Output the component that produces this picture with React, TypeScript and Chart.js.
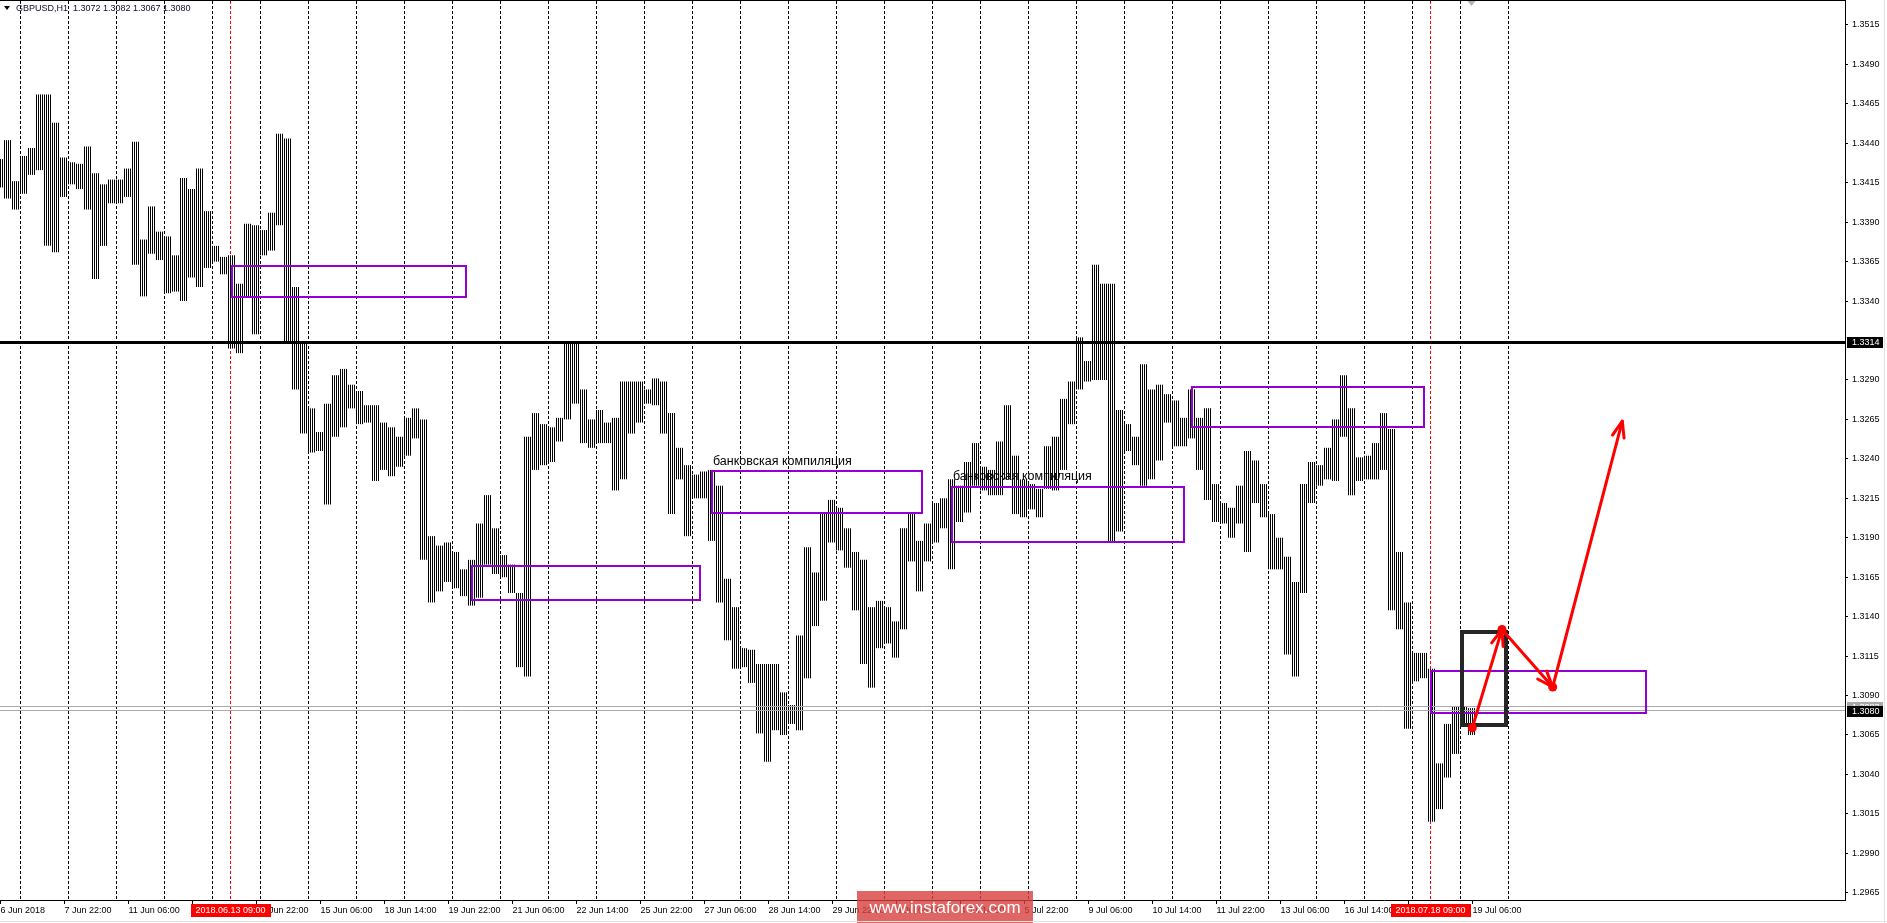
import React, { useEffect, useRef } from 'react';
import { Chart, registerables } from 'chart.js';

Chart.register(...registerables);

// ---------- data ----------
const symbolTitle = 'GBPUSD,H1';
const lastBarOHLC = [1.3072, 1.3082, 1.3067, 1.3080];

// x value = hourly bar index (0 = 6 Jun 2018 14:00). Each entry below is a group of 4 hourly bars,
// group k covers bars 4k-2 .. 4k+1 (first group starts 6 Jun 12:00).
const groupHigh = [
  1.3430, 1.3442, 1.3416, 1.3432, 1.3437, 1.3471, 1.3471, 1.3453, 1.3431, 1.3428,
  1.3427, 1.3438, 1.3421, 1.3414, 1.3417, 1.3417, 1.3424, 1.3441, 1.3379, 1.3400,
  1.3384, 1.3381, 1.3369, 1.3418, 1.3411, 1.3424, 1.3397, 1.3375, 1.3368, 1.3369,
  1.3351, 1.3389, 1.3388, 1.3385, 1.3396, 1.3446, 1.3443, 1.3349, 1.3314, 1.3272,
  1.3257, 1.3275, 1.3293, 1.3297, 1.3287, 1.3283, 1.3274, 1.3274, 1.3263, 1.3260,
  1.3254, 1.3266, 1.3272, 1.3265, 1.3191, 1.3185, 1.3187, 1.3181, 1.3170, 1.3176,
  1.3199, 1.3217, 1.3196, 1.3179, 1.3173, 1.3155, 1.3254, 1.3269, 1.3262, 1.3260,
  1.3266, 1.3313, 1.3313, 1.3284, 1.3265, 1.3271, 1.3263, 1.3266, 1.3289, 1.3289,
  1.3289, 1.3284, 1.3291, 1.3289, 1.3269, 1.3247, 1.3236, 1.3230, 1.3232, 1.3233,
  1.3223, 1.3164, 1.3146, 1.3120, 1.3119, 1.3110, 1.3110, 1.3110, 1.3092, 1.3084,
  1.3128, 1.3184, 1.3168, 1.3206, 1.3214, 1.3209, 1.3196, 1.3181, 1.3176, 1.3146,
  1.3150, 1.3146, 1.3137, 1.3196, 1.3205, 1.3188, 1.3199, 1.3212, 1.3215, 1.3227,
  1.3223, 1.3238, 1.3250, 1.3235, 1.3233, 1.3251, 1.3274, 1.3242, 1.3227, 1.3224,
  1.3221, 1.3248, 1.3254, 1.3278, 1.3289, 1.3317, 1.3302, 1.3363, 1.3351, 1.3351,
  1.3271, 1.3262, 1.3254, 1.3300, 1.3284, 1.3287, 1.3281, 1.3277, 1.3266, 1.3284,
  1.3266, 1.3272, 1.3224, 1.3212, 1.3209, 1.3223, 1.3245, 1.3239, 1.3224, 1.3205,
  1.3190, 1.3178, 1.3162, 1.3224, 1.3238, 1.3236, 1.3247, 1.3265, 1.3293, 1.3272,
  1.3241, 1.3242, 1.3250, 1.3269, 1.3259, 1.3181, 1.3149, 1.3117, 1.3117, 1.3107,
  1.3047, 1.3072, 1.3083, 1.3083, 1.3082,
];
const groupLow = [
  1.3412, 1.3405, 1.3398, 1.3408, 1.3420, 1.3423, 1.3375, 1.3371, 1.3406, 1.3414,
  1.3411, 1.3398, 1.3354, 1.3375, 1.3402, 1.3402, 1.3406, 1.3363, 1.3343, 1.3370,
  1.3366, 1.3345, 1.3346, 1.3340, 1.3355, 1.3349, 1.3361, 1.3365, 1.3357, 1.3310,
  1.3307, 1.3342, 1.3319, 1.3369, 1.3372, 1.3388, 1.3313, 1.3284, 1.3256, 1.3244,
  1.3245, 1.3211, 1.3254, 1.3260, 1.3272, 1.3262, 1.3263, 1.3226, 1.3233, 1.3229,
  1.3235, 1.3242, 1.3253, 1.3176, 1.3149, 1.3156, 1.3162, 1.3158, 1.3153, 1.3147,
  1.3152, 1.3173, 1.3167, 1.3165, 1.3155, 1.3108, 1.3102, 1.3233, 1.3236, 1.3238,
  1.3251, 1.3265, 1.3275, 1.3250, 1.3247, 1.3250, 1.3250, 1.3220, 1.3227, 1.3256,
  1.3263, 1.3275, 1.3274, 1.3256, 1.3205, 1.3227, 1.3191, 1.3215, 1.3215, 1.3188,
  1.3149, 1.3125, 1.3107, 1.3108, 1.3098, 1.3066, 1.3048, 1.3068, 1.3065, 1.3072,
  1.3068, 1.3101, 1.3134, 1.3150, 1.3187, 1.3182, 1.3171, 1.3144, 1.3110, 1.3095,
  1.3120, 1.3123, 1.3114, 1.3132, 1.3175, 1.3156, 1.3175, 1.3187, 1.3196, 1.3170,
  1.3200, 1.3206, 1.3223, 1.3220, 1.3217, 1.3217, 1.3227, 1.3205, 1.3203, 1.3208,
  1.3203, 1.3221, 1.3220, 1.3233, 1.3262, 1.3284, 1.3289, 1.3290, 1.3290, 1.3188,
  1.3194, 1.3245, 1.3236, 1.3223, 1.3227, 1.3239, 1.3263, 1.3248, 1.3248, 1.3253,
  1.3233, 1.3214, 1.3200, 1.3199, 1.3190, 1.3199, 1.3181, 1.3212, 1.3203, 1.3170,
  1.3170, 1.3116, 1.3102, 1.3155, 1.3212, 1.3223, 1.3227, 1.3226, 1.3254, 1.3217,
  1.3226, 1.3227, 1.3227, 1.3233, 1.3144, 1.3132, 1.3069, 1.3099, 1.3101, 1.3010,
  1.3018, 1.3038, 1.3053, 1.3071, 1.3065,
];

const priceTicks = [
  1.2965, 1.2990, 1.3015, 1.3040, 1.3065, 1.3090, 1.3115, 1.3140, 1.3165, 1.3190, 1.3215,
  1.3240, 1.3265, 1.3290, 1.3340, 1.3365, 1.3390, 1.3415, 1.3440, 1.3465, 1.3490, 1.3515,
];
const xTickBars = [0, 32, 64, 96, 128, 160, 192, 224, 256, 288, 320, 352, 384, 416, 448, 480, 512, 544, 576, 608, 640, 672, 704, 736];
const xTickLabels = [
  '6 Jun 2018', '7 Jun 22:00', '11 Jun 06:00', '12 Jun 14:00', '13 Jun 22:00', '15 Jun 06:00',
  '18 Jun 14:00', '19 Jun 22:00', '21 Jun 06:00', '22 Jun 14:00', '25 Jun 22:00', '27 Jun 06:00',
  '28 Jun 14:00', '29 Jun 22:00', '3 Jul 06:00', '4 Jul 14:00', '5 Jul 22:00', '9 Jul 06:00',
  '10 Jul 14:00', '11 Jul 22:00', '13 Jul 06:00', '16 Jul 14:00', '17 Jul 22:00', '19 Jul 06:00',
];
const firstDayStartBar = 10; // 7 Jun 00:00
const separatorDays = 32;
const markerBars = [115, 715];
const markerLabels = ['2018.06.13 09:00', '2018.07.18 09:00'];

const levelPrice = 1.3314;
const bidPrice = 1.3080;
const askPrice = 1.30828;

const zoneStart = [115.6, 235.6, 355.6, 475.75, 595.6, 715.25];
const zoneEnd = [232.9, 349.75, 460.75, 591.75, 711.75, 822.6];
const zoneTop = [1.33622, 1.31722, 1.32325, 1.32222, 1.32855, 1.31055];
const zoneBottom = [1.33423, 1.31508, 1.32059, 1.3187, 1.32602, 1.30791];

const noteText = 'банковская компиляция';
const noteBars = [356.25, 476.25];
const notePrices = [1.32386, 1.32285];

const boxBars = [730.9, 752.9];
const boxPrices = [1.313, 1.30715];

const pathBars = [735.9, 750.75, 776.1, 810.9];
const pathPrices = [1.30696, 1.31319, 1.30954, 1.32639];

const watermark = 'www.instaforex.com';

const FONT = 'Liberation Sans';

export default function App() {
  const ref = useRef<HTMLCanvasElement>(null);

  useEffect(() => {
    document.body.style.margin = '0';
    const canvas = ref.current!;
    const pc = document.createElement('canvas');
    pc.width = 2;
    pc.height = 1;
    const pctx = pc.getContext('2d')!;
    pctx.fillStyle = '#000';
    pctx.fillRect(0, 0, 1, 1);
    const stripes = canvas.getContext('2d')!.createPattern(pc, 'repeat')!;

    const bars = groupHigh.map((h, k) => ({ x: 4 * k - 0.5, y: [groupLow[k], h] }));

    const overlay = {
      id: 'mt4overlay',
      beforeDatasetsDraw(chart: any) {
        const { ctx, chartArea: a, scales } = chart;
        const xs = scales.x;
        ctx.save();
        ctx.lineWidth = 1;
        ctx.setLineDash([3, 2]);
        ctx.strokeStyle = '#000';
        for (let d = 0; d < separatorDays; d++) {
          const px = Math.floor(xs.getPixelForValue(firstDayStartBar + 24 * d)) + 0.5;
          if (markerBars.some((m) => Math.abs(xs.getPixelForValue(m) - px) < 1)) continue;
          ctx.beginPath();
          ctx.moveTo(px, a.top);
          ctx.lineTo(px, a.bottom);
          ctx.stroke();
        }
        ctx.strokeStyle = '#FF0000';
        for (const m of markerBars) {
          const px = Math.floor(xs.getPixelForValue(m)) + 0.5;
          ctx.beginPath();
          ctx.moveTo(px, a.top);
          ctx.lineTo(px, a.bottom);
          ctx.stroke();
        }
        ctx.restore();
      },
      afterDatasetsDraw(chart: any) {
        const { ctx, chartArea: a, scales } = chart;
        const xs = scales.x;
        const ys = scales.y;
        const X = (v: number) => xs.getPixelForValue(v);
        const Y = (v: number) => ys.getPixelForValue(v);
        ctx.save();
        // bid / ask lines
        ctx.lineWidth = 1;
        ctx.strokeStyle = '#ABABAB';
        for (const p of [askPrice, bidPrice]) {
          const y = Math.round(Y(p)) - 0.5;
          ctx.beginPath();
          ctx.moveTo(a.left, y);
          ctx.lineTo(a.right, y);
          ctx.stroke();
        }
        // horizontal level
        ctx.strokeStyle = '#000';
        ctx.lineWidth = 3;
        const ly = Math.round(Y(levelPrice) - 0.5) + 0.5;
        ctx.beginPath();
        ctx.moveTo(a.left, ly);
        ctx.lineTo(a.right, ly);
        ctx.stroke();
        // zones
        ctx.strokeStyle = '#9400D3';
        ctx.lineWidth = 2;
        for (let i = 0; i < zoneStart.length; i++) {
          const x1 = Math.round(X(zoneStart[i]));
          const x2 = Math.round(X(zoneEnd[i]));
          const y1 = Math.round(Y(zoneTop[i]));
          const y2 = Math.round(Y(zoneBottom[i]));
          ctx.strokeRect(x1, y1, x2 - x1, y2 - y1);
        }
        // notes
        ctx.fillStyle = '#000';
        ctx.font = `12.5px "${FONT}"`;
        ctx.textBaseline = 'middle';
        ctx.textAlign = 'left';
        for (let i = 0; i < noteBars.length; i++) {
          ctx.fillText(noteText, X(noteBars[i]), Y(notePrices[i]));
        }
        // black box
        ctx.strokeStyle = '#262626';
        ctx.lineWidth = 4;
        const bx1 = Math.round(X(boxBars[0]));
        const bx2 = Math.round(X(boxBars[1]));
        const by1 = Math.round(Y(boxPrices[0]));
        const by2 = Math.round(Y(boxPrices[1]));
        ctx.strokeRect(bx1, by1, bx2 - bx1, by2 - by1);
        // arrows
        ctx.strokeStyle = '#FF0000';
        ctx.fillStyle = '#FF0000';
        ctx.lineWidth = 3;
        ctx.lineCap = 'round';
        ctx.lineJoin = 'round';
        for (let i = 0; i < pathBars.length - 1; i++) {
          const x1 = X(pathBars[i]);
          const y1 = Y(pathPrices[i]);
          const x2 = X(pathBars[i + 1]);
          const y2 = Y(pathPrices[i + 1]);
          ctx.beginPath();
          ctx.moveTo(x1, y1);
          ctx.lineTo(x2, y2);
          ctx.stroke();
          const ang = Math.atan2(y2 - y1, x2 - x1);
          const L = 17;
          const w = 0.36;
          ctx.beginPath();
          ctx.moveTo(x2 - L * Math.cos(ang - w), y2 - L * Math.sin(ang - w));
          ctx.lineTo(x2, y2);
          ctx.lineTo(x2 - L * Math.cos(ang + w), y2 - L * Math.sin(ang + w));
          ctx.stroke();
          ctx.beginPath();
          ctx.arc(x1, y1, 4.5, 0, Math.PI * 2);
          ctx.fill();
        }
        ctx.restore();
      },
      afterDraw(chart: any) {
        const { ctx, chartArea: a, scales, width, height } = chart;
        const xs = scales.x;
        const ys = scales.y;
        ctx.save();
        // top frame
        ctx.fillStyle = '#000';
        ctx.fillRect(0, 0, a.right + 1, 1);
        // axis price labels
        ctx.font = `9px "${FONT}"`;
        ctx.textBaseline = 'middle';
        ctx.textAlign = 'left';
        const tag = (p: number, bg: string, txt: string) => {
          const y = Math.round(ys.getPixelForValue(p));
          ctx.fillStyle = bg;
          ctx.fillRect(a.right + 2, y - 5, 36, 11);
          ctx.fillStyle = '#fff';
          ctx.fillText(txt, a.right + 7, y + 0.5);
        };
        tag(askPrice, '#A9A9A9', askPrice.toFixed(4));
        tag(bidPrice, '#000', bidPrice.toFixed(4));
        tag(levelPrice, '#000', levelPrice.toFixed(4));
        // red time labels
        ctx.textAlign = 'center';
        for (let i = 0; i < markerBars.length; i++) {
          const px = Math.floor(xs.getPixelForValue(markerBars[i])) + 0.5;
          ctx.fillStyle = '#FF0000';
          ctx.fillRect(Math.round(px - 40), a.bottom + 4, 80, 13);
          ctx.fillStyle = '#fff';
          ctx.fillText(markerLabels[i], px, a.bottom + 10.5);
        }
        // header
        ctx.fillStyle = '#000';
        ctx.beginPath();
        ctx.moveTo(4, 6);
        ctx.lineTo(10, 6);
        ctx.lineTo(7, 10);
        ctx.closePath();
        ctx.fill();
        ctx.textAlign = 'left';
        ctx.textBaseline = 'alphabetic';
        ctx.fillStyle = '#0A0A28';
        ctx.fillText(`${symbolTitle}  ${lastBarOHLC.map((v) => v.toFixed(4)).join(' ')}`, 16, 11);
        // chart shift marker
        const sx = xs.getPixelForValue(735.5);
        ctx.fillStyle = '#B4B4B4';
        ctx.beginPath();
        ctx.moveTo(sx - 4, 1);
        ctx.lineTo(sx + 4, 1);
        ctx.lineTo(sx, 6);
        ctx.closePath();
        ctx.fill();
        // watermark
        ctx.fillStyle = 'rgba(216,64,64,0.8)';
        ctx.fillRect(857, 891, 176, 32);
        ctx.fillStyle = '#fff';
        ctx.font = `17px "${FONT}"`;
        ctx.textAlign = 'center';
        ctx.textBaseline = 'middle';
        ctx.fillText(watermark, 945, 908);
        // window frame
        ctx.fillStyle = '#E3E3E3';
        ctx.fillRect(width - 3, 0, 1, height);
        ctx.fillRect(0, height - 2, width, 1);
        ctx.restore();
      },
    };

    const chart = new Chart(canvas, {
      type: 'bar',
      data: {
        datasets: [
          {
            data: bars as any,
            backgroundColor: stripes as any,
            borderWidth: 0,
            barThickness: 8,
            inflateAmount: 0,
          } as any,
        ],
      },
      options: {
        responsive: false,
        animation: false,
        devicePixelRatio: 1,
        layout: { padding: { top: 1, left: 0, right: 0, bottom: 0 } },
        plugins: { legend: { display: false }, tooltip: { enabled: false } },
        scales: {
          x: {
            type: 'linear',
            min: -0.25,
            max: 922.25,
            offset: false,
            grid: { offset: false, drawOnChartArea: false, drawTicks: true, tickLength: 4, color: '#000' },
            border: { display: true, color: '#000', width: 1 },
            ticks: {
              autoSkip: false,
              maxRotation: 0,
              minRotation: 0,
              align: 'start',
              padding: 1,
              color: '#000',
              font: { family: FONT, size: 9 },
              callback: (_v: any, i: number) => xTickLabels[i] ?? '',
            },
            afterBuildTicks: (s: any) => {
              s.ticks = xTickBars.map((v) => ({ value: v }));
            },
            afterFit: (s: any) => {
              s.height = 23;
              s.paddingLeft = 0;
              s.paddingRight = 0;
            },
          } as any,
          y: {
            type: 'linear',
            position: 'right',
            min: 1.29604,
            max: 1.35302,
            beginAtZero: false,
            grid: { drawOnChartArea: false, drawTicks: true, tickLength: 3, color: '#000' },
            border: { display: true, color: '#000', width: 1 },
            ticks: {
              padding: 4,
              color: '#000',
              font: { family: FONT, size: 9 },
              callback: (v: any) => Number(v).toFixed(4),
            },
            afterBuildTicks: (s: any) => {
              s.ticks = priceTicks.map((v) => ({ value: v }));
            },
            afterFit: (s: any) => {
              s.width = 42;
              s.paddingTop = 0;
              s.paddingBottom = 0;
            },
          } as any,
        },
      },
      plugins: [overlay],
    });
    return () => chart.destroy();
  }, []);

  return <canvas ref={ref} width={1887} height={923} style={{ display: 'block', width: 1887, height: 923 }} />;
}
